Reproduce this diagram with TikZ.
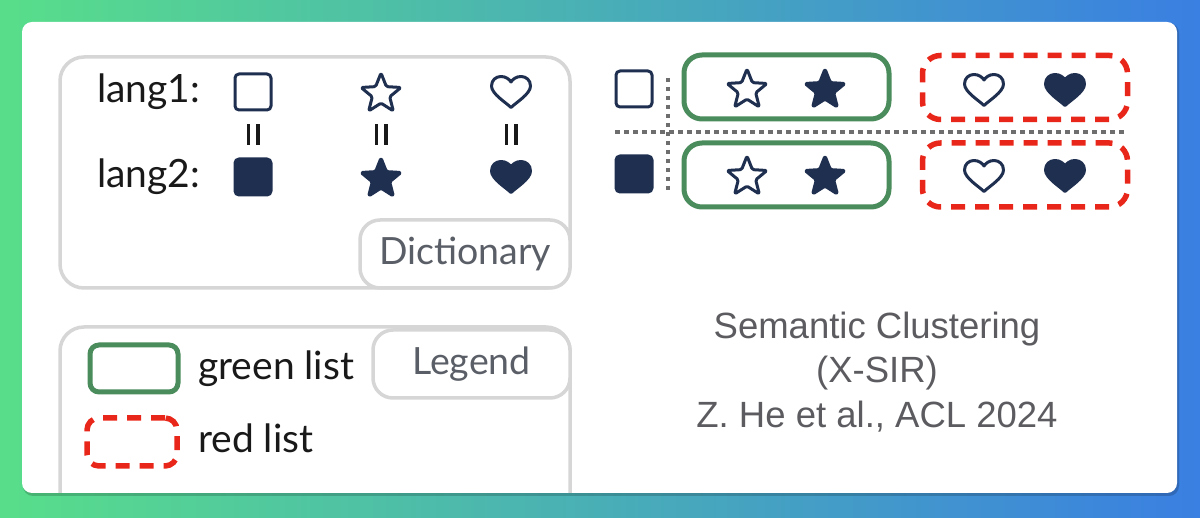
\documentclass[tikz,border=0pt]{standalone}
\usepackage{fontspec}
\setmainfont{Lato}
\newfontfamily\citefont{Liberation Sans}
\usetikzlibrary{positioning,shapes.geometric}

\definecolor{navy}{HTML}{1F2F50}
\definecolor{boxgray}{HTML}{D6D6D6}
\definecolor{tabtext}{HTML}{5A5E66}
\definecolor{citegray}{HTML}{5C5C60}
\definecolor{listgreen}{HTML}{4A8C5C}
\definecolor{listred}{HTML}{E8271A}
\definecolor{dotgray}{HTML}{6E6E6E}
\definecolor{bgleft}{HTML}{58DE8A}
\definecolor{bgmid}{HTML}{44B4B4}
\definecolor{bgright}{HTML}{3A7FE2}

\tikzset{
  symline/.style={draw=navy, line width=3pt, line join=round},
  sqout/.style={symline, rounded corners=4pt, minimum width=36pt, minimum height=36pt, inner sep=0pt},
  sqfill/.style={sqout, fill=navy},
  starout/.style={symline, star, star points=5, star point ratio=2.3, minimum size=42pt, inner sep=0pt, rounded corners=1.5pt},
  starfill/.style={starout, fill=navy},
  heart/.pic={
    \path[pic actions] (0,-15.5) .. controls (-5,-10.5) and (-19.5,-2) .. (-19.5,6)
      .. controls (-19.5,12) and (-15,15.5) .. (-10,15.5)
      .. controls (-5,15.5) and (-1.5,12.5) .. (0,10)
      .. controls (1.5,12.5) and (5,15.5) .. (10,15.5)
      .. controls (15,15.5) and (19.5,12) .. (19.5,6)
      .. controls (19.5,-2) and (5,-10.5) .. (0,-15.5) -- cycle;
  },
  eqbars/.pic={
    \fill[black!90] (-6.5,-10.5) rectangle (-3,10.5);
    \fill[black!90] (3,-10.5) rectangle (6.5,10.5);
  },
  grouplist/.style={rounded corners=18pt, minimum width=205pt, minimum height=64pt},
  greenlist/.style={grouplist, draw=listgreen, line width=5pt},
  redlist/.style={grouplist, draw=listred, line width=5.5pt, dash pattern=on 14pt off 10pt},
  panel/.style={draw=boxgray, line width=3.5pt, rounded corners=24pt},
  tabbox/.style={draw=boxgray, line width=3.5pt, rounded corners=20pt, fill=white,
    font=\fontsize{37.5}{40}\selectfont, text=tabtext},
  langtext/.style={font=\fontsize{39}{42}\selectfont, text=black!90, inner sep=0pt},
  dotline/.style={draw=dotgray, line width=4pt, dash pattern=on 4.5pt off 4.5pt},
}

\begin{document}
\begin{tikzpicture}[x=1pt, y=1pt]
  \useasboundingbox (0,0) rectangle (1200,517);
  % background and card
  \shade[left color=bgleft, middle color=bgmid, right color=bgright] (0,0) rectangle (1200,517);
  \fill[black, opacity=0.18, rounded corners=10pt] (23,21) rectangle (1179,494);
  \fill[white, rounded corners=10pt] (22,24) rectangle (1177,495);

  % dictionary panel
  \draw[panel] (60,229) rectangle (570,460);
  \node[tabbox, minimum width=210pt, minimum height=68pt] (dicttab) at (465,263) {Dictionary};
  \node[langtext, anchor=base west] (lang1) at (97,414) {lang1:};
  \node[langtext, anchor=base west] (lang2) at (97,329) {lang2:};
  \node[sqout] (sq1) at (253,425) {};
  \node[sqfill] (sq2) at (253,340) {};
  \node[starout] (st1) at (381,423) {};
  \node[starfill] (st2) at (381,338) {};
  \pic[symline] (ht1) at (511,425) {heart};
  \pic[symline, fill=navy] (ht2) at (511,340) {heart};
  \pic (eq1) at (253,382) {eqbars};
  \pic (eq2) at (381,382) {eqbars};
  \pic (eq3) at (511,382) {eqbars};

  % legend panel, cut off by the card
  \begin{scope}
    \clip[rounded corners=10pt] (22,24) rectangle (1177,495);
    \draw[panel] (60,-40) rectangle (570,190);
  \end{scope}
  \node[tabbox, minimum width=197pt, minimum height=68pt] (legtab) at (471.5,153) {Legend};
  \node[draw=listgreen, line width=5pt, rounded corners=9pt, minimum width=88pt, minimum height=47pt] (leggreen) at (134,148.5) {};
  \node[draw=listred, line width=5.5pt, dash pattern=on 14pt off 10pt, rounded corners=12pt, minimum width=90pt, minimum height=48pt] (legred) at (132,75) {};
  \node[langtext, anchor=base west] (greentxt) at (198,137) {green list};
  \node[langtext, anchor=base west] (redtxt) at (198,64) {red list};

  % semantic clusters
  \node[sqout] (csq1) at (634,428) {};
  \node[sqfill] (csq2) at (634,343) {};
  \coordinate (vtop) at (668,439);
  \coordinate (vbot) at (668,327);
  \coordinate (hleft) at (615,385);
  \coordinate (hright) at (1126,385);
  \draw[dotline] (vtop) -- (vbot);
  \draw[dotline] (hleft) -- (hright);

  \node[greenlist] (grn1) at (786.5,430) {};
  \node[greenlist] (grn2) at (786.5,342) {};
  \node[redlist] (red1) at (1025,429.5) {};
  \node[redlist] (red2) at (1025,342) {};
  \node[starout] (cst1) at (747,427) {};
  \node[starfill] (cst2) at (825,427) {};
  \node[starout] (cst3) at (747,340) {};
  \node[starfill] (cst4) at (825,340) {};
  \pic[symline] (cht1) at (984,427) {heart};
  \pic[symline, fill=navy] (cht2) at (1065,427) {heart};
  \pic[symline] (cht3) at (984,341) {heart};
  \pic[symline, fill=navy] (cht4) at (1065,341) {heart};

  \node[align=center, text=citegray, font=\citefont\fontsize{36.5}{44.5}\selectfont] (cite) at (877,145)
    {Semantic Clustering\\(X-SIR)\\Z. He et al., ACL 2024};
\end{tikzpicture}
\end{document}
